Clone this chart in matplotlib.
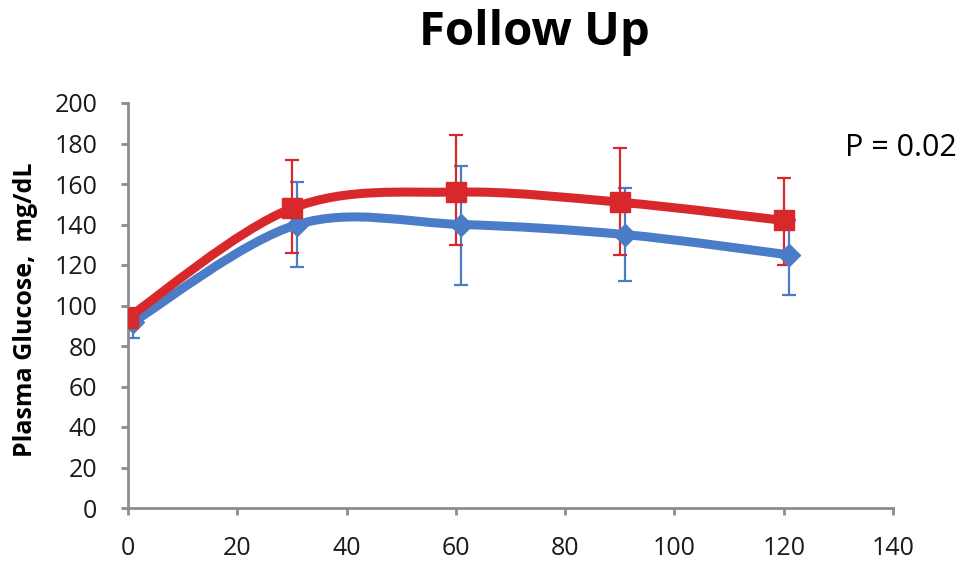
import numpy as np
import matplotlib
matplotlib.use('Agg')
import matplotlib.pyplot as plt
from matplotlib.path import Path
from matplotlib.patches import PathPatch

# minutes after load
red_x = [0, 30, 60, 90, 120]
blue_x = [1, 31, 61, 91, 121]

red_y = [94, 148, 156, 151, 142]
red_err_hi = [5, 24, 28, 27, 21]
red_err_lo = [5, 22, 26, 26, 22]

blue_y = [92, 140, 140, 135, 125]
blue_err_hi = [5, 21, 29, 23, 17]
blue_err_lo = [8, 21, 30, 23, 20]

RED = '#d9282c'
BLUE = '#4a7cc7'


def smooth_path(x, y, t=1 / 6.0):
    """Excel-style smoothed line as cubic bezier segments."""
    pts = np.column_stack([x, y]).astype(float)
    n = len(pts)
    verts = [pts[0]]
    codes = [Path.MOVETO]
    for i in range(n - 1):
        p0 = pts[i - 1] if i > 0 else pts[i]
        p1 = pts[i]
        p2 = pts[i + 1]
        p3 = pts[i + 2] if i + 2 < n else pts[i + 1]
        c1 = p1 + (p2 - p0) * t
        c2 = p2 - (p3 - p1) * t
        verts += [c1, c2, p2]
        codes += [Path.CURVE4] * 3
    return Path(verts, codes)


plt.rcParams['font.family'] = ['Open Sans', 'DejaVu Sans']

fig = plt.figure(figsize=(9.62, 5.63), dpi=100)
ax = fig.add_axes([128 / 962, 1 - 508 / 563, (893 - 128) / 962, (508 - 103) / 563])

for xs, ys, lo, hi, col, mk, ms in [
    (blue_x, blue_y, blue_err_lo, blue_err_hi, BLUE, 'D', 11),
    (red_x, red_y, red_err_lo, red_err_hi, RED, 's', 15),
]:
    ax.errorbar(xs, ys, yerr=[lo, hi], fmt='none', ecolor=col,
                elinewidth=1.6, capsize=5, capthick=1.6, zorder=2)
    ax.add_patch(PathPatch(smooth_path(xs, ys), fill=False, edgecolor=col,
                           linewidth=6.5, capstyle='round', joinstyle='round', zorder=3))
    ax.plot(xs, ys, linestyle='none', marker=mk, markersize=ms,
            color=col, zorder=4)

ax.set_xlim(0, 140)
ax.set_ylim(0, 200)
ax.set_xticks(range(0, 141, 20))
ax.set_yticks(range(0, 201, 20))
ax.spines['top'].set_visible(False)
ax.spines['right'].set_visible(False)
for s in ['left', 'bottom']:
    ax.spines[s].set_color('#8c8c8c')
    ax.spines[s].set_linewidth(2)
ax.tick_params(axis='both', colors='#8c8c8c', width=2, direction='out',
               length=5, labelsize=18, labelcolor='#1a1a1a')
ax.tick_params(axis='y', pad=17)
ax.tick_params(axis='x', pad=15)
ax.set_ylabel('Plasma Glucose,  mg/dL', fontsize=18, fontweight='bold')
ax.yaxis.set_label_coords(-90 / 765, (508 - 310) / 405)

fig.text(534 / 962, 1 - 45 / 563, 'Follow Up', fontsize=34, fontweight='bold',
         ha='center', va='baseline')
fig.text(901 / 962, 1 - 156 / 563, 'P = 0.02', fontsize=22,
         ha='center', va='baseline')

fig.savefig('out.png', dpi=100)
